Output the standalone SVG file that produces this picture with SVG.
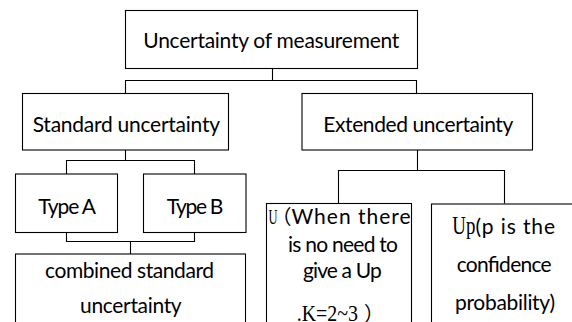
<svg xmlns="http://www.w3.org/2000/svg" width="572" height="322" viewBox="0 0 572 322">
<style>
.box{fill:#fff;stroke:#000;stroke-width:1.1}
.con{fill:none;stroke:#000;stroke-width:1.1}
.t{font-family:"Lato","Liberation Sans",sans-serif;font-size:21px;fill:#000}
.s{font-family:"Liberation Serif",serif}
.c{font-family:"Noto Sans CJK SC",sans-serif;font-size:20px}
</style>
<g id="connectors">
<path class="con" d="M272.5 68.5V80.5M125.5 93.5V80.5H416.5V93.5"/>
<path class="con" d="M125.5 150V160.5M66.5 174V160.5H194.5V174"/>
<path class="con" d="M66.5 232.5V241.5H194.5V232.5M130.5 241.5V254"/>
<path class="con" d="M417.5 150V170.5M338.5 203.5V170.5H504.5V203.5"/>
</g>
<g id="n-root">
<rect class="box" x="125.5" y="10.5" width="292" height="58"/>
<text class="t" x="143.3" y="47.7" textLength="256">Uncertainty of measurement</text>
</g>
<g id="n-standard">
<rect class="box" x="22.5" y="93.5" width="206" height="56.5"/>
<text class="t" x="32.7" y="132.3" textLength="187.3">Standard uncertainty</text>
</g>
<g id="n-extended">
<rect class="box" x="302" y="93.5" width="230.5" height="56.5"/>
<text class="t" x="323.3" y="132.3" textLength="190">Extended uncertainty</text>
</g>
<g id="n-typeA">
<rect class="box" x="15.5" y="174" width="102" height="58.5"/>
<text class="t" x="38.3" y="214.3" textLength="57.7">Type A</text>
</g>
<g id="n-typeB">
<rect class="box" x="143.5" y="174" width="102.5" height="58.5"/>
<text class="t" x="166.7" y="214.3" textLength="56.6">Type B</text>
</g>
<g id="n-combined">
<rect class="box" x="15.5" y="254" width="230" height="90"/>
<text class="t" x="45" y="278.3" textLength="169">combined standard</text>
<text class="t" x="80" y="313.3" textLength="101.7">uncertainty</text>
</g>
<g id="n-U">
<rect class="box" x="266.5" y="203.5" width="145" height="140"/>
<text class="t" x="268.5" y="224.3"><tspan class="s" font-size="22" textLength="9" lengthAdjust="spacingAndGlyphs">U</tspan><tspan class="c" dx="-6">（</tspan><tspan x="291.5" textLength="119">When there</tspan></text>
<text class="t" x="288" y="251.7" textLength="110">is no need to</text>
<text class="t" x="303" y="278.3" textLength="78.7">give a Up</text>
<text class="t" x="296.7" y="320.5"><tspan class="s" font-size="24" textLength="61.3" lengthAdjust="spacingAndGlyphs">.K=2~3</tspan><tspan class="c" x="364">）</tspan></text>
</g>
<g id="n-Up">
<rect class="box" x="431.5" y="204" width="160" height="140"/>
<text class="t" x="452.3" y="234.3"><tspan class="s" font-size="25" textLength="23" lengthAdjust="spacingAndGlyphs">Up</tspan><tspan x="475.5" textLength="79.5">(p is the</tspan></text>
<text class="t" x="456.7" y="272" textLength="95">confidence</text>
<text class="t" x="455" y="310" textLength="100">probability)</text>
</g>
</svg>
